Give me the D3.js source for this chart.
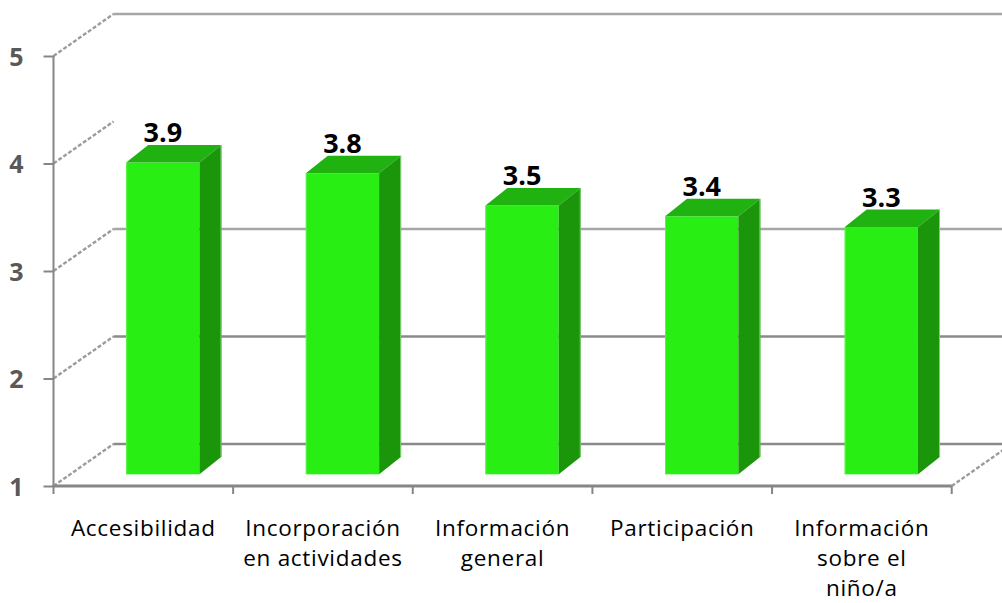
<!DOCTYPE html>
<html>
<head>
<meta charset="utf-8">
<script src="https://cdn.jsdelivr.net/npm/d3@7"></script>
<style>
  html, body { margin: 0; padding: 0; background: #ffffff; }
  svg { display: block; }
</style>
</head>
<body>
<svg id="chart" width="1002" height="603"></svg>
<script>
// Average scores per area (scale 1–5)
const categories = ["Accesibilidad", "Incorporación\nen actividades", "Información\ngeneral", "Participación", "Información\nsobre el\nniño/a"];
const values = [3.9, 3.8, 3.5, 3.4, 3.3];
const yTicks = [1, 2, 3, 4, 5];
const wallGridValues = [1, 2, 3, 5];

const svg = d3.select("#chart");

// Front plane scales
const x = d3.scaleBand().domain(categories).range([53.5, 951.7]).paddingInner(0).paddingOuter(0);
const y = d3.scaleLinear().domain([1, 5]).range([486, 56]);

// Oblique depth of the back wall
const wallDX = 60, wallDY = 42;
// Bar placement inside the depth
const barShiftX = 19.5, barShiftY = 11.7;
const barDepthX = 22, barDepthY = 17.5;
const barWidth = x.bandwidth() * 0.408;

const axisColor = "#868686";
const labelFont = "'Open Sans', Lato, sans-serif";

// Back wall gridlines
svg.append("g").selectAll("line").data(wallGridValues).join("line")
  .attr("x1", x.range()[0] + wallDX)
  .attr("x2", 1002)
  .attr("y1", d => y(d) - wallDY)
  .attr("y2", d => y(d) - wallDY)
  .attr("stroke", d => (d === 3 || d === 5) ? "#a6a6a6" : "#8a8a8a")
  .attr("stroke-width", 2.6);

// Side wall depth lines from each tick
svg.append("g").selectAll("line").data(yTicks).join("line")
  .attr("x1", x.range()[0])
  .attr("y1", d => y(d))
  .attr("x2", x.range()[0] + wallDX)
  .attr("y2", d => y(d) - wallDY)
  .attr("stroke", "#9c9c9c")
  .attr("stroke-width", 2.4)
  .attr("stroke-dasharray", "4 2");

// Floor right edge
svg.append("line")
  .attr("x1", x.range()[1]).attr("y1", y(1))
  .attr("x2", x.range()[1] + wallDX).attr("y2", y(1) - wallDY)
  .attr("stroke", "#9c9c9c").attr("stroke-width", 2.4)
  .attr("stroke-dasharray", "4 2");

// Bars
const bars = svg.append("g").selectAll("g").data(categories).join("g");
const fx = (d) => x(d) + x.bandwidth() / 2 + barShiftX - barWidth / 2;
const topY = (i) => y(values[i]) - barShiftY;
const botY = y(1) - barShiftY;

bars.append("rect")
  .attr("x", d => fx(d))
  .attr("y", (d, i) => topY(i))
  .attr("width", barWidth)
  .attr("height", (d, i) => botY - topY(i))
  .attr("fill", "#28ee14");

bars.append("polygon")
  .attr("points", (d, i) => {
    const xl = fx(d), xr = xl + barWidth, yt = topY(i);
    return [[xl, yt], [xr, yt], [xr + barDepthX, yt - barDepthY], [xl + barDepthX, yt - barDepthY]].join(" ");
  })
  .attr("fill", "#20b211");

bars.append("polygon")
  .attr("points", (d, i) => {
    const xr = fx(d) + barWidth, yt = topY(i);
    return [[xr, yt], [xr + barDepthX, yt - barDepthY], [xr + barDepthX, botY - barDepthY], [xr, botY]].join(" ");
  })
  .attr("fill", "#1b960b");

// Light edges
bars.append("line")
  .attr("x1", d => fx(d) + 0.5).attr("x2", d => fx(d) + 0.5)
  .attr("y1", (d, i) => topY(i)).attr("y2", botY)
  .attr("stroke", "#5ef24a").attr("stroke-width", 1);
bars.append("line")
  .attr("x1", d => fx(d) + barWidth + barDepthX - 0.5).attr("x2", d => fx(d) + barWidth + barDepthX - 0.5)
  .attr("y1", (d, i) => topY(i) - barDepthY).attr("y2", botY - barDepthY)
  .attr("stroke", "#7fcf73").attr("stroke-width", 1);

// Value labels
bars.append("text")
  .attr("x", d => fx(d) + barWidth / 2)
  .attr("y", (d, i) => topY(i) - barDepthY - 3)
  .attr("text-anchor", "middle")
  .attr("font-family", labelFont)
  .attr("font-weight", "bold")
  .attr("font-size", 27)
  .attr("fill", "#000000")
  .text((d, i) => values[i].toFixed(1));

// Y axis
const yAxisG = svg.append("g").attr("transform", `translate(${x.range()[0]},0)`)
  .call(d3.axisLeft(y).tickValues(yTicks).tickFormat(d3.format("d")).tickSize(10).tickPadding(20));
yAxisG.select(".domain").attr("stroke", axisColor).attr("stroke-width", 2)
  .attr("d", `M0,${y(5)}V${y(1)}`);
yAxisG.selectAll(".tick line").attr("stroke", axisColor).attr("stroke-width", 2);
yAxisG.selectAll(".tick text")
  .attr("font-family", labelFont)
  .attr("font-weight", "bold")
  .attr("font-size", 25)
  .attr("fill", "#595959")
  .attr("dy", "0.36em");

// X axis (front floor edge)
const xAxisG = svg.append("g").attr("transform", `translate(0,${y(1)})`)
  .call(d3.axisBottom(x).tickSize(0).tickFormat(""));
xAxisG.select(".domain").attr("stroke", axisColor).attr("stroke-width", 3)
  .attr("d", `M${x.range()[0] - 1},0H${x.range()[1]}`);
xAxisG.selectAll(".tick").remove();

// Category separators
const sepX = categories.map(c => x(c)).concat([x.range()[1]]);
svg.append("g").selectAll("line").data(sepX).join("line")
  .attr("x1", d => d).attr("x2", d => d)
  .attr("y1", y(1)).attr("y2", y(1) + 8)
  .attr("stroke", axisColor).attr("stroke-width", 2);

// Category labels
const labels = svg.append("g").selectAll("text").data(categories).join("text")
  .attr("x", d => x(d) + x.bandwidth() / 2)
  .attr("y", 536)
  .attr("text-anchor", "middle")
  .attr("font-family", labelFont)
  .attr("font-size", 22.5)
  .attr("letter-spacing", 0.7)
  .attr("fill", "#000000");
labels.each(function(d) {
  const t = d3.select(this);
  d.split("\n").forEach((line, k) => {
    t.append("tspan")
      .attr("x", x(d) + x.bandwidth() / 2)
      .attr("dy", k === 0 ? 0 : 30)
      .text(line);
  });
});
</script>
</body>
</html>
